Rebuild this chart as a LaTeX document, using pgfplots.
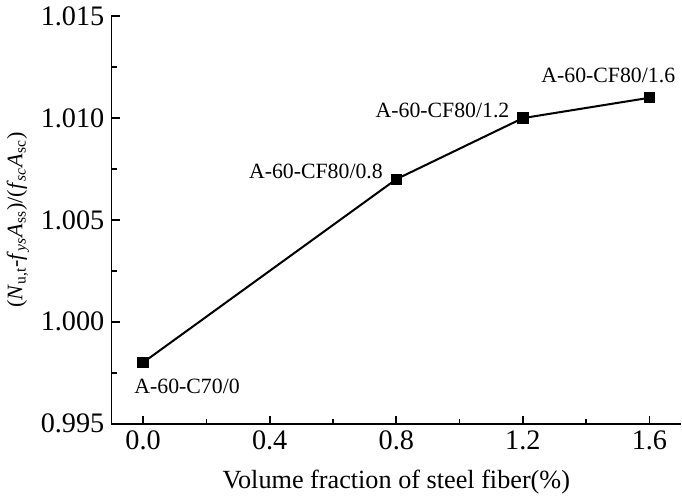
\documentclass[border=0pt]{standalone}
\usepackage{fontspec}
\setmainfont{Liberation Serif}
\usepackage{pgfplots}
\pgfplotsset{compat=1.18}

\begin{document}
\begin{tikzpicture}
\begin{axis}[
    width=282.5pt, height=202pt, scale only axis,
    axis x line=bottom, axis y line=left,
    axis line style={-, line width=0.9pt},
    xmin=-0.1, xmax=1.7, ymin=0.995, ymax=1.015,
    xtick={0,0.4,0.8,1.2,1.6},
    minor xtick={0.2,0.6,1.0,1.4},
    ytick={0.995,1.000,1.005,1.010,1.015},
    minor ytick={0.9975,1.0025,1.0075,1.0125},
    tick align=inside,
    major tick length=4pt, minor tick length=2.5pt,
    tick style={line width=0.8pt, black},
    /pgf/number format/assume math mode=true,
    x tick label style={/pgf/number format/.cd, fixed, fixed zerofill, precision=1},
    y tick label style={/pgf/number format/.cd, fixed, fixed zerofill, precision=3},
    tick label style={font=\fontsize{14}{16}\selectfont},
    xlabel={Volume fraction of steel fiber(\%)},
    ylabel={(\textit{N}\textsubscript{u,t}-\textit{f}\textsubscript{\textit{ys}}\textit{A}\textsubscript{ss})/(\textit{f}\textsubscript{\textit{sc}}\textit{A}\textsubscript{sc})},
    xlabel style={font=\fontsize{13}{15}\selectfont, yshift=-3pt},
    ylabel style={font=\fontsize{11}{13}\selectfont, yshift=-1pt},
    clip=false,
]
\addplot[black, line width=1pt, mark=square*, mark size=2.3pt] coordinates {
    (0.0,0.998) (0.8,1.007) (1.2,1.010) (1.6,1.011)
};
\node[anchor=north west, font=\fontsize{10.8}{12}\selectfont, inner sep=1pt] at (axis cs:-0.035,0.9973) {A-60-C70/0};
\node[anchor=south east, font=\fontsize{10.8}{12}\selectfont, inner sep=1pt] at (axis cs:0.765,1.0069) {A-60-CF80/0.8};
\node[anchor=south east, font=\fontsize{10.8}{12}\selectfont, inner sep=1pt] at (axis cs:1.165,1.0099) {A-60-CF80/1.2};
\node[anchor=south, font=\fontsize{10.8}{12}\selectfont, inner sep=1pt] at (axis cs:1.47,1.0116) {A-60-CF80/1.6};
\end{axis}
\end{tikzpicture}
\end{document}
